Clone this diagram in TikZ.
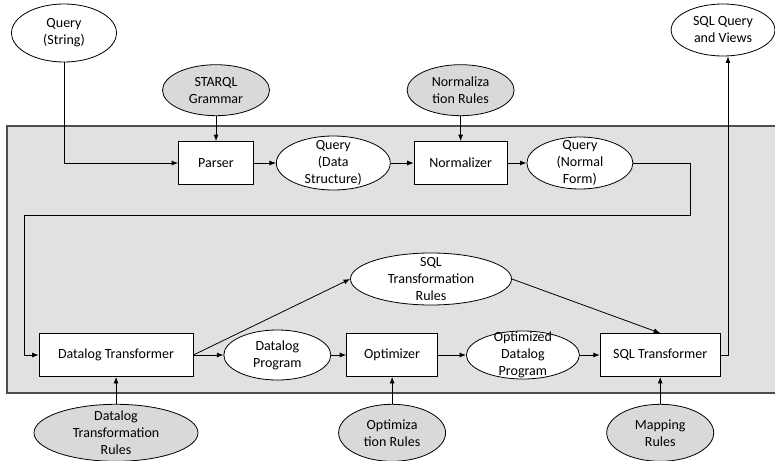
\documentclass[tikz,border=0pt]{standalone}
\usepackage{fontspec}
\setmainfont{Carlito}
\usetikzlibrary{positioning,shapes.geometric,arrows.meta}

\definecolor{panel}{HTML}{E1E1E1}
\definecolor{rulefill}{HTML}{D9D9D9}

\tikzset{
  proc/.style={draw, fill=white, rectangle, minimum height=43pt, inner sep=0pt, line width=0.8pt},
  data/.style={draw, fill=white, ellipse, inner sep=0pt, line width=0.8pt},
  rules/.style={data, fill=rulefill},
  txt/.style={label={[align=center, inner sep=0pt]center:#1}},
  flow/.style={-{Latex[length=6.5pt,width=5pt]}, line width=0.8pt},
}

\begin{document}
\begin{tikzpicture}[x=1pt, y=-1pt, font=\fontsize{14}{17}\selectfont]
  \useasboundingbox (0,0) rectangle (775,460);

  % Panel
  \fill[panel] (7,126) rectangle (780,393);
  \draw[line width=1.2pt, gray!60!black] (780,126) -- (7,126) -- (7,393) -- (780,393);

  % Define nodes
  \node[proc, minimum width=75pt]              (parser) at (216,163) {Parser};
  \node[data, minimum width=114pt, minimum height=54pt, right=22pt of parser,
        txt={Query\\(Data\\Structure)}]        (qds) {};
  \node[proc, minimum width=93pt, right=23pt of qds]   (norm) {Normalizer};
  \node[data, minimum width=106pt, minimum height=52pt, right=19pt of norm,
        txt={Query\\(Normal\\Form)}]           (qnf) {};
  \node[rules, minimum width=107pt, minimum height=51pt, above=25pt of parser,
        txt={STARQL\\Grammar}]                 (starql) {};
  \node[rules, minimum width=107pt, minimum height=51pt, above=25pt of norm,
        txt={Normaliza\\tion Rules}]           (norm-r) {};
  \node[data, minimum width=105pt, minimum height=58pt, txt={Query\\(String)}]
                                               (qstr) at (64,33) {};
  \node[data, minimum width=104pt, minimum height=52pt, txt={SQL Query\\and Views}]
                                               (sqlqv) at (723,30) {};

  \node[proc, minimum width=154pt]             (dt) at (116,355) {Datalog Transformer};
  \node[data, minimum width=107pt, minimum height=50pt, right=30pt of dt,
        txt={Datalog\\Program}]                (dp) {};
  \node[proc, minimum width=91pt, right=15pt of dp]    (opt) {Optimizer};
  \node[data, minimum width=113pt, minimum height=48pt, right=28pt of opt,
        txt={Optimized\\Datalog\\Program}]     (odp) {};
  \node[proc, minimum width=120pt, right=20pt of odp]  (sqlt) {SQL Transformer};
  \node[data, minimum width=161pt, minimum height=52pt, txt={SQL\\Transformation\\Rules}]
                                               (sqlt-r) at (431,279) {};
  \node[rules, minimum width=164pt, minimum height=57pt, below=27pt of dt,
        txt={Datalog\\Transformation\\Rules}]  (dt-r) {};
  \node[rules, minimum width=107pt, minimum height=57pt, below=27pt of opt,
        txt={Optimiza\\tion Rules}]            (opt-r) {};
  \node[rules, minimum width=107pt, minimum height=57pt, below=27pt of sqlt,
        txt={Mapping\\Rules}]                  (map-r) {};

  \coordinate (turn-a) at (690,215);
  \coordinate (turn-b) at (24,215);

  % Connect the nodes
  \draw[flow] (qstr.south) |- (parser.west);
  \draw[flow] (starql) -- (parser);
  \draw[flow] (norm-r) -- (norm);
  \draw[flow] (parser) -- (qds);
  \draw[flow] (qds) -- (norm);
  \draw[flow] (norm) -- (qnf);
  \draw[flow] (qnf.east) -| (turn-a) -- (turn-b) |- (dt.west);
  \draw[flow] (dt) -- (dp);
  \draw[flow] (dp) -- (opt);
  \draw[flow] (opt) -- (odp);
  \draw[flow] (odp) -- (sqlt);
  \draw[flow] (dt.east) -- (sqlt-r.west);
  \draw[flow] (sqlt-r.east) -- (sqlt.north);
  \draw[flow] (dt-r) -- (dt);
  \draw[flow] (opt-r) -- (opt);
  \draw[flow] (map-r) -- (sqlt);
  \draw[flow] (sqlt.east) -| ([xshift=5pt]sqlqv.south);

\end{tikzpicture}
\end{document}
